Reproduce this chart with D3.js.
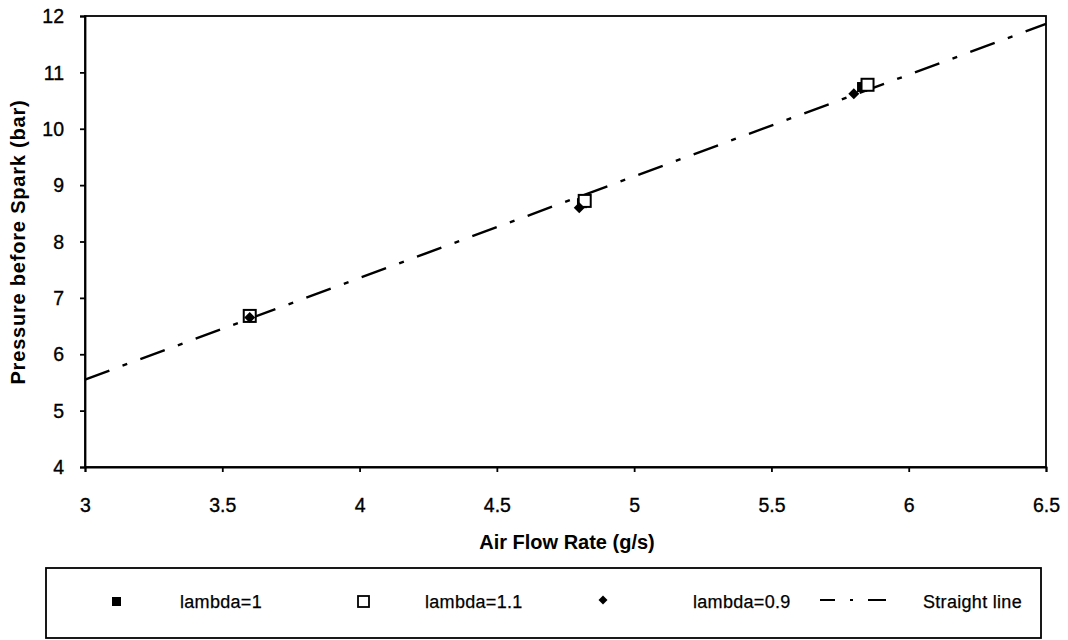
<!DOCTYPE html>
<html>
<head>
<meta charset="utf-8">
<script src="https://cdn.jsdelivr.net/npm/d3@7"></script>
<style>
html,body{margin:0;padding:0;background:#fff;}
svg{display:block;font-family:"Liberation Sans",Arial,sans-serif;}
</style>
</head>
<body>
<svg id="chart" width="1068" height="640"></svg>
<script>
// Data
const lambda1X = [3.60, 4.81, 5.83];
const lambda1Y = [6.68, 8.68, 10.74];
const lambda11X = [3.60, 4.82, 5.85];
const lambda11Y = [6.68, 8.72, 10.78];
const lambda09X = [3.60, 4.80, 5.80];
const lambda09Y = [6.65, 8.60, 10.62];
const lineX = [3.0, 6.5];
const lineY = [5.55, 11.86];
const xTicks = [3, 3.5, 4, 4.5, 5, 5.5, 6, 6.5];
const yTicks = [4, 5, 6, 7, 8, 9, 10, 11, 12];
const legendLabels = ["lambda=1", "lambda=1.1", "lambda=0.9", "Straight line"];

const svg = d3.select("#chart");
const L = 85, R = 1046, T = 16, B = 467;
const x = d3.scaleLinear().domain([3, 6.5]).range([L, R]);
const y = d3.scaleLinear().domain([4, 12]).range([B, T]);

// plot border
svg.append("rect").attr("x", L).attr("y", T).attr("width", R - L).attr("height", B - T)
  .attr("fill", "none").attr("stroke", "#000").attr("stroke-width", 1.8);

// axes
const xAxis = svg.append("g").attr("transform", `translate(0,${B})`)
  .call(d3.axisBottom(x).tickValues(xTicks).tickSize(5).tickFormat(d3.format("")));
const yAxis = svg.append("g").attr("transform", `translate(${L},0)`)
  .call(d3.axisLeft(y).tickValues(yTicks).tickSize(5).tickFormat(d3.format("")));
[xAxis, yAxis].forEach(g => {
  g.select(".domain").attr("stroke", "#000").attr("stroke-width", 1.8);
  g.selectAll(".tick line").attr("stroke", "#000").attr("stroke-width", 1.8);
  g.selectAll(".tick text").attr("fill", "#000").attr("stroke", "#000").attr("stroke-width", 0.35)
    .style("font-size", "19.5px")
    .style("font-family", "'Liberation Sans', Arial, sans-serif");
});
xAxis.selectAll(".tick text").attr("dy", "0").attr("y", 45);
yAxis.selectAll(".tick text").attr("x", -21).attr("dy", "0.34em");

// axis titles
svg.append("text").attr("x", 567).attr("y", 549).attr("text-anchor", "middle")
  .style("font-size", "20px").style("font-weight", "bold").text("Air Flow Rate (g/s)");
svg.append("text").attr("transform", "translate(25,242) rotate(-90)").attr("text-anchor", "middle")
  .style("font-size", "20px").style("font-weight", "bold").style("letter-spacing", "0.8px")
  .text("Pressure before Spark (bar)");

// straight line (dash-dot)
const lineData = lineX.map((d, i) => [d, lineY[i]]);
svg.append("path").datum(lineData)
  .attr("d", d3.line().x(d => x(d[0])).y(d => y(d[1])))
  .attr("fill", "none").attr("stroke", "#000").attr("stroke-width", 2.4)
  .attr("stroke-dasharray", "26,14,5,14");

// markers
const sq = 12;
svg.append("g").selectAll("rect").data(lambda1X.map((d, i) => [d, lambda1Y[i]])).join("rect")
  .attr("x", d => x(d[0]) - 5).attr("y", d => y(d[1]) - 5).attr("width", 10).attr("height", 10)
  .attr("fill", "#000");
svg.append("g").selectAll("rect").data(lambda11X.map((d, i) => [d, lambda11Y[i]])).join("rect")
  .attr("x", d => x(d[0]) - sq / 2).attr("y", d => y(d[1]) - sq / 2).attr("width", sq).attr("height", sq)
  .attr("fill", "#fff").attr("stroke", "#000").attr("stroke-width", 2);
svg.append("g").selectAll("path").data(lambda09X.map((d, i) => [d, lambda09Y[i]])).join("path")
  .attr("transform", d => `translate(${x(d[0])},${y(d[1])})`)
  .attr("d", "M0,-5.5L5.5,0L0,5.5L-5.5,0Z").attr("fill", "#000");

// legend
const lg = svg.append("g");
lg.append("rect").attr("x", 46).attr("y", 568).attr("width", 995).attr("height", 70)
  .attr("fill", "#fff").attr("stroke", "#000").attr("stroke-width", 1.8);
const ly = 602;
lg.append("rect").attr("x", 112).attr("y", ly - 5).attr("width", 9).attr("height", 9).attr("fill", "#000");
lg.append("rect").attr("x", 358).attr("y", ly - 6).attr("width", 11).attr("height", 11)
  .attr("fill", "#fff").attr("stroke", "#000").attr("stroke-width", 1.8);
lg.append("path").attr("transform", `translate(603,${ly - 2})`).attr("d", "M0,-4.5L4.5,0L0,4.5L-4.5,0Z").attr("fill", "#000");
lg.append("path").attr("d", `M820,${ly - 2}L886,${ly - 2}`).attr("stroke", "#000").attr("stroke-width", 1.8)
  .attr("stroke-dasharray", "15,15,3,15,18");
const lx = [180, 425, 693, 923];
legendLabels.forEach((t, i) => {
  lg.append("text").attr("x", lx[i]).attr("y", ly + 6).style("font-size", "18px")
    .attr("stroke", "#000").attr("stroke-width", 0.25)
    .style("letter-spacing", "0.3px").text(t);
});
</script>
</body>
</html>
